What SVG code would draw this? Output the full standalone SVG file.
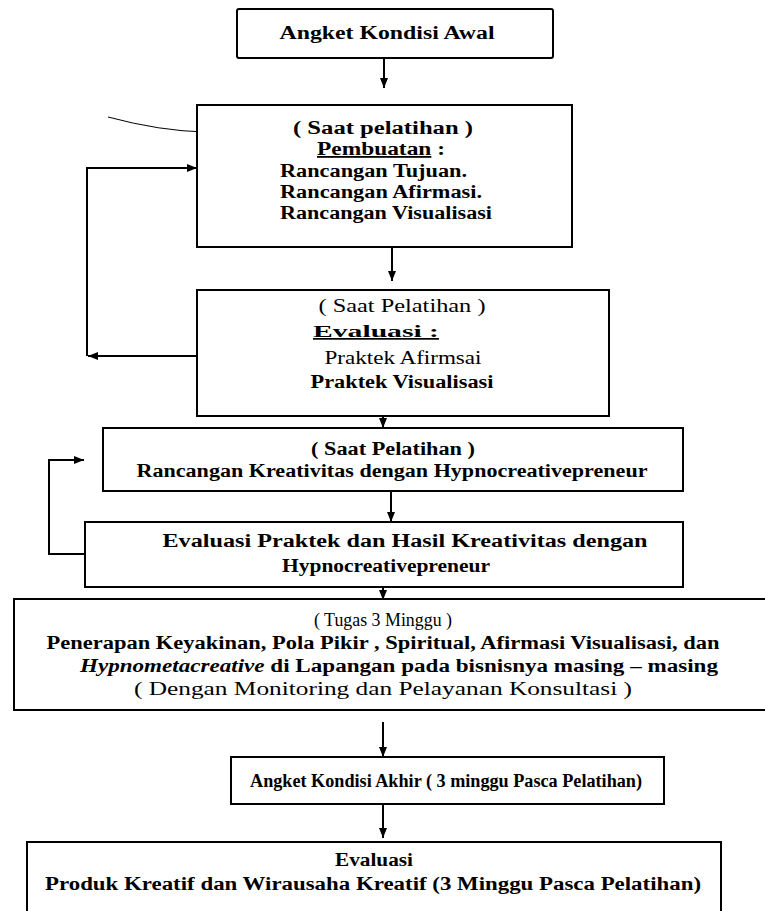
<svg xmlns="http://www.w3.org/2000/svg" width="765" height="911" viewBox="0 0 765 911">
<style>
.box{fill:#fff;stroke:#000;stroke-width:2}
text{font-family:'Liberation Serif','DejaVu Serif','Times New Roman',serif;font-size:18px;font-weight:bold;fill:#000}
.n{font-weight:normal}
.s{font-size:17px}
.c{stroke:#000;stroke-width:2;fill:none}
</style>
<defs>
<marker id="ah" markerUnits="userSpaceOnUse" markerWidth="10" markerHeight="10" viewBox="0 0 10 10" refX="10" refY="5" orient="auto">
<path d="M0,1 L10,5 L0,9 Z" fill="#000"/>
</marker>
</defs>
<rect width="765" height="911" fill="#fff"/>

<g id="connectors">
<path class="c" d="M384,58 V88" marker-end="url(#ah)"/>
<path class="c" d="M392,247 V281" marker-end="url(#ah)"/>
<path class="c" d="M383,397 V428" marker-end="url(#ah)"/>
<path class="c" d="M391,491 V522" marker-end="url(#ah)"/>
<path class="c" d="M383,587 V600" marker-end="url(#ah)"/>
<path class="c" d="M383,722 V757" marker-end="url(#ah)"/>
<path class="c" d="M383,805 V838" marker-end="url(#ah)"/>
<path class="c" d="M197,356 H88" marker-end="url(#ah)"/>
<path class="c" d="M87,356 V168 H197" marker-end="url(#ah)"/>
<path class="c" d="M85,554 H49 V460 H84" marker-end="url(#ah)"/>
<path d="M108,117 Q160,131 205,132" fill="none" stroke="#000" stroke-width="1"/>
</g>

<g id="n1">
<rect class="box" x="237" y="9" width="316" height="49" rx="2"/>
<text x="387" y="39" text-anchor="middle" textLength="215" lengthAdjust="spacingAndGlyphs">Angket Kondisi Awal</text>
</g>

<g id="n2">
<rect class="box" x="197" y="105" width="375" height="142"/>
<text x="383" y="134" text-anchor="middle" textLength="180" lengthAdjust="spacingAndGlyphs">( Saat pelatihan )</text>
<text x="381" y="155" text-anchor="middle" textLength="128" lengthAdjust="spacingAndGlyphs"><tspan text-decoration="underline"> Pembuatan</tspan> :</text>
<text x="280" y="177" textLength="187" lengthAdjust="spacingAndGlyphs">Rancangan Tujuan.</text>
<text x="280" y="198" textLength="202" lengthAdjust="spacingAndGlyphs">Rancangan  Afirmasi.</text>
<text x="280" y="219" textLength="212" lengthAdjust="spacingAndGlyphs">Rancangan Visualisasi</text>
</g>

<g id="n3">
<rect class="box" x="197" y="290" width="412" height="126"/>
<text class="n" x="402" y="312" text-anchor="middle" textLength="167" lengthAdjust="spacingAndGlyphs">( Saat Pelatihan )</text>
<text class="s" x="376" y="337" text-anchor="middle" textLength="126" lengthAdjust="spacingAndGlyphs" text-decoration="underline">Evaluasi  :</text>
<text class="n" x="403" y="364" text-anchor="middle" textLength="157" lengthAdjust="spacingAndGlyphs">Praktek Afirmsai</text>
<text x="402" y="388" text-anchor="middle" textLength="183" lengthAdjust="spacingAndGlyphs">Praktek Visualisasi</text>
</g>

<g id="n4">
<rect class="box" x="103" y="428" width="580" height="63"/>
<text x="393" y="455" text-anchor="middle" textLength="164" lengthAdjust="spacingAndGlyphs">( Saat Pelatihan )</text>
<text x="392" y="477" text-anchor="middle" textLength="511" lengthAdjust="spacingAndGlyphs">Rancangan Kreativitas dengan Hypnocreativepreneur</text>
</g>

<g id="n5">
<rect class="box" x="85" y="522" width="598" height="65"/>
<text x="405" y="547" text-anchor="middle" textLength="485" lengthAdjust="spacingAndGlyphs">Evaluasi Praktek dan Hasil Kreativitas dengan</text>
<text x="386" y="572" text-anchor="middle" textLength="208" lengthAdjust="spacingAndGlyphs">Hypnocreativepreneur</text>
</g>

<g id="n6">
<path class="box" d="M766,599 H14 V710 H766"/>
<text class="n" x="383" y="626" text-anchor="middle" textLength="138" lengthAdjust="spacingAndGlyphs">( Tugas 3 Minggu  )</text>
<text x="383" y="649" text-anchor="middle" textLength="673" lengthAdjust="spacingAndGlyphs">Penerapan  Keyakinan, Pola Pikir , Spiritual, Afirmasi Visualisasi, dan</text>
<text x="80" y="672" textLength="638" lengthAdjust="spacingAndGlyphs"><tspan font-style="italic">Hypnometacreative</tspan>    di Lapangan  pada bisnisnya masing – masing</text>
<text class="n" x="383" y="695" text-anchor="middle" textLength="498" lengthAdjust="spacingAndGlyphs">( Dengan Monitoring  dan Pelayanan Konsultasi )</text>
</g>

<g id="n7">
<rect class="box" x="231" y="757" width="433" height="47"/>
<text x="446" y="787" text-anchor="middle" textLength="392" lengthAdjust="spacingAndGlyphs">Angket Kondisi Akhir ( 3 minggu Pasca Pelatihan)</text>
</g>

<g id="n8">
<path class="box" d="M27,912 V842 H721 V912"/>
<text x="374" y="866" text-anchor="middle" textLength="78" lengthAdjust="spacingAndGlyphs">Evaluasi</text>
<text x="373" y="890" text-anchor="middle" textLength="656" lengthAdjust="spacingAndGlyphs">Produk Kreatif dan Wirausaha Kreatif  (3 Minggu  Pasca Pelatihan)</text>
</g>
</svg>
